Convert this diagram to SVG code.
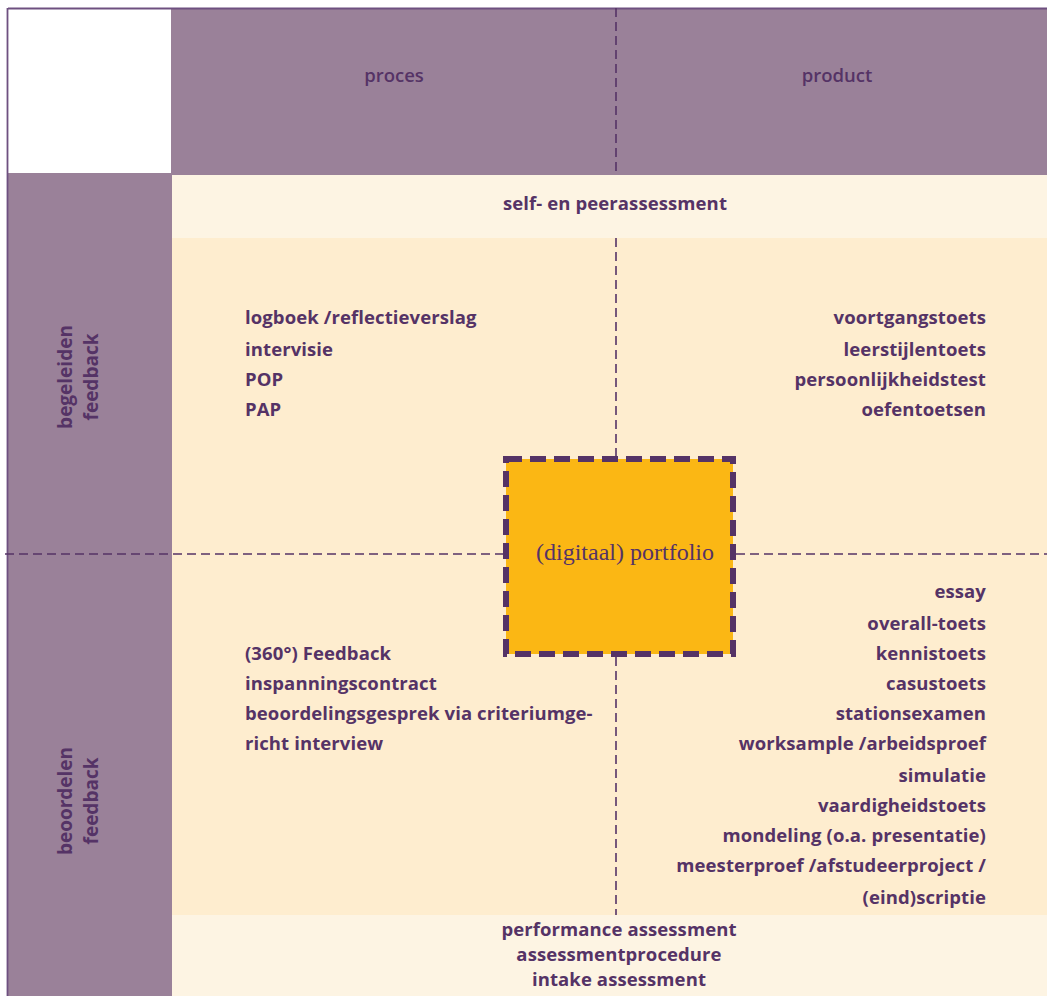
<svg xmlns="http://www.w3.org/2000/svg" width="1047" height="996" viewBox="0 0 1047 996">
<defs>
<style>
.t{font-family:"Open Sans","Liberation Sans",sans-serif;font-size:18.5px;font-weight:700;fill:#553366;letter-spacing:0.1px}
.r{text-anchor:end}
.c{text-anchor:middle}
.h{font-family:"Open Sans","Liberation Sans",sans-serif;font-size:18.5px;font-weight:600;fill:#553366;text-anchor:middle}
.v{font-family:"Open Sans","Liberation Sans",sans-serif;font-size:19px;font-weight:700;fill:#553366;text-anchor:middle}
.dash{stroke:#553366;stroke-width:1.6;stroke-dasharray:9 5;fill:none}
</style>
</defs>
<rect x="0" y="0" width="1047" height="996" fill="#ffffff"/>
<g id="background">
<rect x="171" y="8" width="876" height="167" fill="#9a8199"/>
<rect x="8" y="173" width="164" height="823" fill="#9a8199"/>
<rect x="172" y="175" width="875" height="63" fill="#fdf4e3"/>
<rect x="172" y="238" width="875" height="677" fill="#feedcf"/>
<rect x="172" y="915" width="875" height="81" fill="#fdf4e3"/>
<line x1="8" y1="8.5" x2="1047" y2="8.5" stroke="#6e5080" stroke-width="1.8"/>
<line x1="7.5" y1="8" x2="7.5" y2="996" stroke="#6e5080" stroke-width="1.8"/>
</g>
<g id="connectors">
<line class="dash" x1="616" y1="8" x2="616" y2="175"/>
<line class="dash" x1="616" y1="238" x2="616" y2="456"/>
<line class="dash" x1="616" y1="657" x2="616" y2="915"/>
<line class="dash" x1="5" y1="554" x2="503" y2="554"/>
<line class="dash" x1="736" y1="554" x2="1047" y2="554"/>
</g>
<g id="header-proces"><text class="h" x="394" y="82">proces</text></g>
<g id="header-product"><text class="h" x="837" y="82">product</text></g>
<g id="row-begeleiden">
<text class="v" transform="translate(72 377) rotate(-90)">begeleiden</text>
<text class="v" transform="translate(98 377) rotate(-90)">feedback</text>
</g>
<g id="row-beoordelen">
<text class="v" transform="translate(72 801) rotate(-90)">beoordelen</text>
<text class="v" transform="translate(98 801) rotate(-90)">feedback</text>
</g>
<g id="self-peer"><text class="t c" x="615" y="210">self- en peerassessment</text></g>
<g id="proces-begeleiden">
<text class="t" x="245" y="324">logboek /reflectieverslag</text>
<text class="t" x="245" y="356">intervisie</text>
<text class="t" x="245" y="386">POP</text>
<text class="t" x="245" y="416">PAP</text>
</g>
<g id="product-begeleiden">
<text class="t r" x="986" y="324">voortgangstoets</text>
<text class="t r" x="986" y="356">leerstijlentoets</text>
<text class="t r" x="986" y="386">persoonlijkheidstest</text>
<text class="t r" x="986" y="416">oefentoetsen</text>
</g>
<g id="proces-beoordelen">
<text class="t" x="245" y="660">(360°) Feedback</text>
<text class="t" x="245" y="690">inspanningscontract</text>
<text class="t" x="245" y="720">beoordelingsgesprek via criteriumge-</text>
<text class="t" x="245" y="750">richt interview</text>
</g>
<g id="product-beoordelen">
<text class="t r" x="986" y="598">essay</text>
<text class="t r" x="986" y="630">overall-toets</text>
<text class="t r" x="986" y="660">kennistoets</text>
<text class="t r" x="986" y="690">casustoets</text>
<text class="t r" x="986" y="720">stationsexamen</text>
<text class="t r" x="986" y="750">worksample /arbeidsproef</text>
<text class="t r" x="986" y="782">simulatie</text>
<text class="t r" x="986" y="812">vaardigheidstoets</text>
<text class="t r" x="986" y="842">mondeling (o.a. presentatie)</text>
<text class="t r" x="986" y="872">meesterproef /afstudeerproject /</text>
<text class="t r" x="986" y="904">(eind)scriptie</text>
</g>
<g id="bottom">
<text class="t c" x="619" y="936">performance assessment</text>
<text class="t c" x="619" y="961">assessmentprocedure</text>
<text class="t c" x="619" y="986">intake assessment</text>
</g>
<g id="portfolio">
<rect x="506" y="459" width="227" height="195" fill="#fbb714" stroke="#553366" stroke-width="6" stroke-dasharray="16 8"/>
<text x="625" y="560" text-anchor="middle" font-family="Liberation Serif, serif" font-size="24" fill="#553366">(digitaal) portfolio</text>
</g>
</svg>
